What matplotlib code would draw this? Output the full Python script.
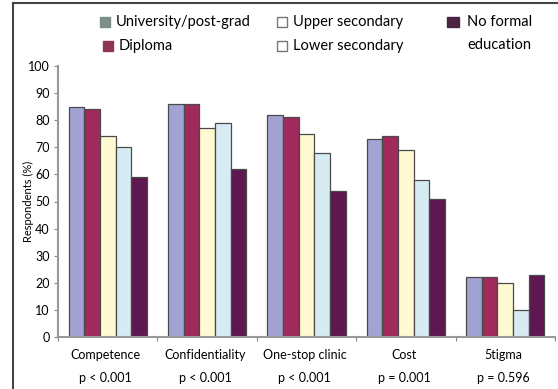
import numpy as np
import matplotlib.pyplot as plt
from matplotlib.patches import Rectangle
from matplotlib.lines import Line2D

plt.rcParams['font.family'] = ['Lato', 'DejaVu Sans']

categories = ["Competence", "Confidentiality", "One-stop clinic", "Cost", "5tigma"]
p_values = ["p < 0.001", "p < 0.001", "p < 0.001", "p = 0.001", "p = 0.596"]
groups = ["University/post-grad", "Diploma", "Upper secondary", "Lower secondary", "No formal\neducation"]

university = [85, 86, 82, 73, 22]
diploma = [84, 86, 81, 74, 22]
upper_secondary = [74, 77, 75, 69, 20]
lower_secondary = [70, 79, 68, 58, 10]
no_formal = [59, 62, 54, 51, 23]

series = [university, diploma, upper_secondary, lower_secondary, no_formal]
bar_colors = ["#a3a3d3", "#a02a5c", "#fffad2", "#d6ecf2", "#5f1752"]
legend_colors = ["#7d8d88", "#8e3454", "#ffffff", "#ffffff", "#4b2444"]
legend_edges = ["#7d8d88", "#8e3454", "#777777", "#777777", "#4b2444"]

fig = plt.figure(figsize=(5.58, 3.89), dpi=100)
W, H = 558, 389
ax = fig.add_axes([58 / W, 1 - 337 / H, 497 / W, (337 - 66) / H])

x = np.arange(len(categories))
width = 0.157
for i, (vals, col) in enumerate(zip(series, bar_colors)):
    ax.bar(x + (i - 2) * width, vals, width, color=col, edgecolor="#4a4a4a", linewidth=0.9)

ax.set_xlim(-0.5, len(categories) - 0.5)
ax.set_ylim(0, 100)
ax.set_yticks(range(0, 101, 10))
ax.set_xticks(np.arange(len(categories) + 1) - 0.5)
ax.set_xticklabels([])
ax.tick_params(axis="x", length=3, color="#888888", direction="out")
ax.tick_params(axis="y", length=3, color="#888888", labelsize=9, pad=3)
for side in ["top", "right"]:
    ax.spines[side].set_visible(False)
for side in ["left", "bottom"]:
    ax.spines[side].set_color("#999999")
    ax.spines[side].set_linewidth(1.5)

# category names with the p-value underneath
for xi, cat, pv in zip(x, categories, p_values):
    ax.text(xi - 0.02, -4.5, cat, ha="center", va="top", fontsize=9)
    ax.text(xi - 0.02, -13, pv, ha="center", va="top", fontsize=9)

ax.set_ylabel("Respondents (%)", fontsize=8)
ax.yaxis.set_label_coords(-24 / 497, 0.5)

# legend drawn by hand in figure pixels
def legend_item(px, py, text, fc, ec, w=10):
    fig.patches.append(Rectangle((px / W, 1 - (py + 5) / H), w / W, 10 / H,
                                 transform=fig.transFigure, facecolor=fc, edgecolor=ec, linewidth=1))
    if text:
        fig.text((px + 16) / W, 1 - py / H, text, fontsize=10.5, va="center", ha="left")

legend_item(100, 22, groups[0], legend_colors[0], legend_edges[0])
legend_item(103, 46, groups[1], legend_colors[1], legend_edges[1])
legend_item(277, 22, groups[2], legend_colors[2], legend_edges[2])
legend_item(277, 46, groups[3], legend_colors[3], legend_edges[3])
legend_item(447, 22, None, legend_colors[4], legend_edges[4], w=12)
line1, line2 = groups[4].split("\n")
fig.text(467 / W, 1 - 22 / H, line1, fontsize=10.5, va="center", ha="left")
fig.text(467 / W, 1 - 45 / H, line2, fontsize=10.5, va="center", ha="left")

# outer frame lines
fig.lines.append(Line2D([13 / W, 13 / W], [0, 1 - 3 / H], transform=fig.transFigure, color="#444444", linewidth=1.5))
fig.lines.append(Line2D([13 / W, 1], [1 - 3 / H, 1 - 3 / H], transform=fig.transFigure, color="#444444", linewidth=1.5))

fig.savefig("out.png", dpi=100)
